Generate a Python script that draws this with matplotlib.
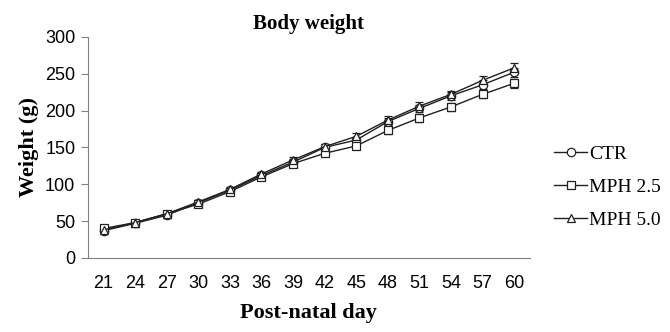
import numpy as np
import matplotlib
matplotlib.use("Agg")
import matplotlib.pyplot as plt

plt.rcParams['font.family'] = ['Liberation Serif', 'DejaVu Serif']

days = [21, 24, 27, 30, 33, 36, 39, 42, 45, 48, 51, 54, 57, 60]
ctr = [37, 47, 58, 75, 92, 112, 130, 150, 160, 185, 203, 220, 235, 252]
mph25 = [40, 48, 60, 73, 90, 110, 128, 142, 152, 173, 190, 205, 222, 237]
mph50 = [38, 48, 60, 76, 93, 114, 133, 151, 165, 187, 206, 222, 241, 258]
ctr_err = [2, 2, 2, 3, 3, 3, 4, 4, 4, 5, 5, 5, 6, 6]
mph25_err = [2, 2, 2, 3, 3, 3, 4, 4, 4, 5, 5, 5, 5, 6]
mph50_err = [2, 2, 2, 3, 3, 3, 4, 4, 4, 5, 5, 5, 6, 6]

series = [("CTR", ctr, ctr_err, "o"),
          ("MPH 2.5", mph25, mph25_err, "s"),
          ("MPH 5.0", mph50, mph50_err, "^")]

fig = plt.figure(figsize=(6.7, 3.32), dpi=100)
ax = fig.add_axes([0.131, 0.223, 0.66, 0.666])

x = np.arange(len(days))
handles = []
for name, vals, err, mk in series:
    c = ax.errorbar(x, vals, yerr=err, color="#202020", lw=1.0, marker=mk,
                    ms=6, mfc="white", mec="#202020", mew=0.9,
                    capsize=3, elinewidth=0.8, label=name)
    handles.append(c[0])

ax.set_xlim(-0.5, len(days) - 0.5)
ax.set_ylim(0, 300)
ax.set_yticks(range(0, 301, 50))
ax.set_xticks(x)
ax.set_xticklabels([str(d) for d in days])
for lab in ax.get_xticklabels() + ax.get_yticklabels():
    lab.set_family(['Liberation Sans', 'DejaVu Sans'])
ax.tick_params(axis='x', length=0, pad=12, labelsize=13)
ax.tick_params(axis='y', length=5, color="#808080", labelsize=13, pad=4)
for s in ["top", "right"]:
    ax.spines[s].set_visible(False)
for s in ["left", "bottom"]:
    ax.spines[s].set_color("#808080")

ax.set_title("Body weight", fontsize=15, fontweight="bold", pad=6)
ax.set_xlabel("Post-natal day", fontsize=16, fontweight="bold", labelpad=8)
ax.set_ylabel("Weight (g)", fontsize=16, fontweight="bold", labelpad=4)

ax.legend(handles=handles, labels=[s[0] for s in series],
          loc="center left", bbox_to_anchor=(1.055, 0.32), frameon=False,
          borderpad=0, borderaxespad=0,
          fontsize=14, handlelength=1.7, handletextpad=0.1, labelspacing=0.8)

fig.savefig("out.png", dpi=100)
